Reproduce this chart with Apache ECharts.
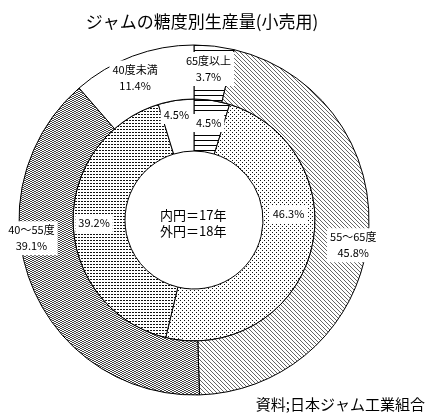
<!DOCTYPE html>
<html>
<head>
<meta charset="utf-8">
<script src="https://cdn.jsdelivr.net/npm/echarts@6/dist/echarts.min.js"></script>
<style>
html, body { margin: 0; padding: 0; background: #fff; }
#main { width: 431px; height: 417px; }
</style>
</head>
<body>
<div id="main"></div>
<script>
// 糖度区分
var categories = ['65度以上', '55～65度', '40～55度', '40度未満'];
// 内円 = 17年, 外円 = 18年 (%)
var inner17 = [4.5, 46.3, 39.2, 4.5];
var outer18 = [3.7, 45.8, 39.1, 11.4];

var FONT = '"Noto Sans CJK JP", "Noto Sans", sans-serif';

// 網掛けパターン
function tile(w, h, color, fn) {
	var c = document.createElement('canvas');
	c.width = w;
	c.height = h;
	var ctx = c.getContext('2d');
	ctx.fillStyle = '#fff';
	ctx.fillRect(0, 0, w, h);
	ctx.fillStyle = color;
	fn(ctx);
	return { image: c, repeat: 'repeat' };
}
var patHoriz = tile(4, 5, '#000', function (ctx) { ctx.fillRect(0, 0, 4, 1); });
var patDiag = tile(4, 4, '#666', function (ctx) {
	for (var i = 0; i < 4; i++) ctx.fillRect(i, i, 1, 1);
});
var patDark = tile(4, 2, '#444', function (ctx) {
	ctx.fillRect(0, 0, 2, 1);
	ctx.fillRect(2, 1, 2, 1);
});
var patDense = tile(3, 3, '#111', function (ctx) { ctx.fillRect(0, 0, 2, 1); });
var patSparse = tile(4, 4, '#111', function (ctx) {
	ctx.fillRect(0, 0, 1, 1);
	ctx.fillRect(2, 2, 1, 1);
});
var white = '#fff';

var innerFill = [patHoriz, patSparse, patDense, white];
var outerFill = [patHoriz, patDiag, patDark, white];

function buildData(vals, fills) {
	return vals.map(function (v, i) {
		return { name: categories[i], value: v, itemStyle: { color: fills[i] } };
	});
}

// ラベルの微調整 (Excel 風の配置)
var innerShift = [[0, 0], [0, -32], [-2, 0], [-3, -8]];
var outerShift = [[-3, -1], [9, 10], [-22, -37], [-6, -1]];

var labelBase = {
	show: true,
	position: 'inside',
	color: '#000',
	fontFamily: FONT,
	fontSize: 11,
	lineHeight: 16,
	backgroundColor: '#fff',
	padding: [1, 3]
};

var chart = echarts.init(document.getElementById('main'));
var option = {
	backgroundColor: '#fff',
	animation: false,
	title: {
		text: 'ジャムの糖度別生産量(小売用)',
		left: 197,
		top: 8,
		textAlign: 'center',
		textStyle: { fontFamily: FONT, fontSize: 17, fontWeight: 'normal', color: '#000' }
	},
	graphic: [
		{
			type: 'text',
			left: 160,
			top: 207,
			style: {
				text: '内円＝17年\n外円＝18年',
				font: '13px ' + FONT,
				lineHeight: 16,
				fill: '#000'
			}
		},
		{
			type: 'text',
			right: 6,
			bottom: 5,
			style: {
				text: '資料;日本ジャム工業組合',
				font: '15px ' + FONT,
				fill: '#000'
			}
		}
	],
	series: [
		{
			name: '17年',
			type: 'pie',
			center: [194, 220],
			radius: [69, 121],
			startAngle: 90,
			silent: true,
			avoidLabelOverlap: false,
			itemStyle: { borderColor: '#000', borderWidth: 1 },
			label: Object.assign({}, labelBase, { formatter: '{c}%' }),
			labelLine: { show: false },
			labelLayout: function (p) {
				var s = innerShift[p.dataIndex];
				return { dx: s[0], dy: s[1] };
			},
			data: buildData(inner17, innerFill)
		},
		{
			name: '18年',
			type: 'pie',
			center: [194, 220],
			radius: [121, 175],
			startAngle: 90,
			silent: true,
			avoidLabelOverlap: false,
			itemStyle: { borderColor: '#000', borderWidth: 1 },
			label: Object.assign({}, labelBase, { formatter: '{b}\n{c}%' }),
			labelLine: { show: false },
			labelLayout: function (p) {
				var s = outerShift[p.dataIndex];
				return { dx: s[0], dy: s[1] };
			},
			data: buildData(outer18, outerFill)
		}
	]
};
chart.setOption(option);
</script>
</body>
</html>
